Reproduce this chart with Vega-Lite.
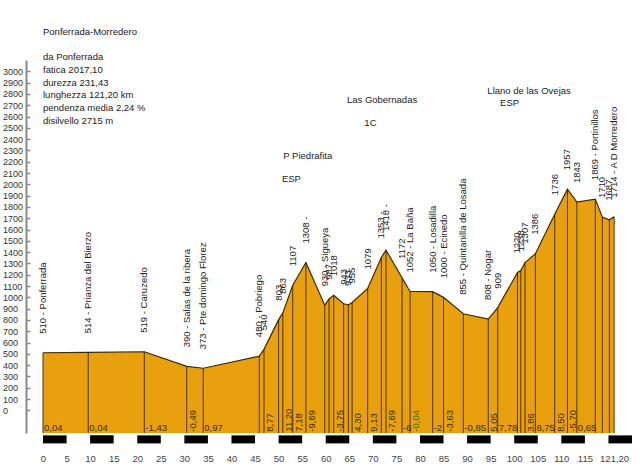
{
  "$schema": "https://vega.github.io/schema/vega-lite/v6.json",
  "autosize": {"type": "none"},
  "padding": {"left": 43, "top": 60, "right": 8, "bottom": 36},
  "width": 589,
  "height": 373,
  "background": "white",
  "config": {
    "view": {"stroke": null},
    "font": "Liberation Sans",
    "text": {"font": "Liberation Sans", "fontSize": 9.5, "color": "#222"},
    "axis": {"labelOverlap": false, "labelFlush": false, "grid": false, "title": null}
  },
  "datasets": {
    "pts": [
      {"km": 0, "ele": 510, "name": "510 - Ponferrada"},
      {"km": 9.6, "ele": 514, "name": "514 - Prianza del Bierzo"},
      {"km": 21.5, "ele": 519, "name": "519 - Caruzedo"},
      {"km": 30.5, "ele": 390, "name": "390 - Salas de la ribera"},
      {"km": 34.0, "ele": 373, "name": "373 - Pte domingo Florez"},
      {"km": 45.9, "ele": 480, "name": "480 - Pobriego"},
      {"km": 46.9, "ele": 540, "name": "540"},
      {"km": 50.0, "ele": 803, "name": "803"},
      {"km": 50.9, "ele": 863, "name": "863"},
      {"km": 53.0, "ele": 1107, "name": "1107"},
      {"km": 55.8, "ele": 1308, "name": "1308 -"},
      {"km": 59.8, "ele": 930, "name": "930 - Sigueya"},
      {"km": 60.7, "ele": 987, "name": "987"},
      {"km": 61.7, "ele": 1018, "name": "1018"},
      {"km": 63.8, "ele": 943, "name": "943"},
      {"km": 64.8, "ele": 933, "name": "933"},
      {"km": 65.6, "ele": 955, "name": "955"},
      {"km": 68.9, "ele": 1079, "name": "1079"},
      {"km": 71.8, "ele": 1353, "name": "1353 -"},
      {"km": 72.8, "ele": 1418, "name": "1418 -"},
      {"km": 76.2, "ele": 1172, "name": "1172"},
      {"km": 77.9, "ele": 1052, "name": "1052 - La Baña"},
      {"km": 82.7, "ele": 1050, "name": "1050 - Losadilla"},
      {"km": 85.0, "ele": 1000, "name": "1000 - Ecinedo"},
      {"km": 89.2, "ele": 855, "name": "855 - Quintanilla de Losada"},
      {"km": 94.5, "ele": 808, "name": "808 - Nogar"},
      {"km": 96.5, "ele": 909, "name": "909"},
      {"km": 100.7, "ele": 1220, "name": "1220"},
      {"km": 101.4, "ele": 1238, "name": "1238"},
      {"km": 102.3, "ele": 1307, "name": "1307"},
      {"km": 104.5, "ele": 1386, "name": "1386"},
      {"km": 108.6, "ele": 1736, "name": "1736"},
      {"km": 111.3, "ele": 1957, "name": "1957"},
      {"km": 113.3, "ele": 1843, "name": "1843"},
      {"km": 117.2, "ele": 1869, "name": "1869 - Portinillos"},
      {"km": 118.7, "ele": 1710, "name": "1710"},
      {"km": 120.2, "ele": 1687, "name": "1687"},
      {"km": 121.2, "ele": 1714, "name": "1714 - A D Morredero"}
    ],
    "gradH": [
      {"km": 0, "g": "0,04"},
      {"km": 9.6, "g": "0,04"},
      {"km": 21.5, "g": "-1,43"},
      {"km": 34.0, "g": "0,97"},
      {"km": 76.2, "g": "-6"},
      {"km": 82.7, "g": "-2"},
      {"km": 89.2, "g": "-0,85"},
      {"km": 96.5, "g": "7,78"},
      {"km": 104.5, "g": "8,75"},
      {"km": 113.3, "g": "0,65"}
    ],
    "gradV": [
      {"km": 30.5, "g": "-0,49"},
      {"km": 46.9, "g": "8,77"},
      {"km": 50.9, "g": "11,20"},
      {"km": 53.0, "g": "7,18"},
      {"km": 55.8, "g": "-9,69"},
      {"km": 61.7, "g": "-3,75"},
      {"km": 65.6, "g": "4,30"},
      {"km": 68.9, "g": "9,13"},
      {"km": 72.8, "g": "-7,69"},
      {"km": 77.9, "g": "-0,04"},
      {"km": 85.0, "g": "-3,63"},
      {"km": 94.5, "g": "5,05"},
      {"km": 102.3, "g": "3,86"},
      {"km": 108.6, "g": "8,50"},
      {"km": 111.3, "g": "-5,70"}
    ],
    "bars": [
      {"s": 0, "e": 5}, {"s": 10, "e": 15}, {"s": 20, "e": 25}, {"s": 30, "e": 35},
      {"s": 40, "e": 45}, {"s": 50, "e": 55}, {"s": 60, "e": 65}, {"s": 70, "e": 75},
      {"s": 80, "e": 85}, {"s": 90, "e": 95}, {"s": 100, "e": 105}, {"s": 110, "e": 115},
      {"s": 120, "e": 125}
    ]
  },
  "layer": [
    {
      "data": {"name": "pts"},
      "mark": {"type": "area", "color": "#e8a10c", "clip": false},
      "encoding": {
        "x": {
          "field": "km", "type": "quantitative",
          "scale": {"domain": [0, 125], "nice": false, "zero": false},
          "axis": {
            "orient": "bottom", "title": null, "grid": false, "domain": false, "ticks": false,
            "tickCount": 200, "format": "d",
            "values": [0,5,10,15,20,25,30,35,40,45,50,55,60,65,70,75,80,85,90,95,100,105,110,115,121.2],
            "labelExpr": "datum.value == 121.2 ? '121,20' : datum.label",
            "labelFont": "Liberation Sans", "labelFontSize": 9.5, "labelColor": "#444",
            "labelPadding": 20, "labelOverlap": false, "labelFlush": false
          }
        },
        "y": {
          "field": "ele", "type": "quantitative",
          "scale": {"domain": [-200, 3100], "nice": false, "zero": false},
          "axis": {
            "title": null, "grid": false, "offset": 17, "format": "d",
            "tickCount": 200,
            "values": [0,100,200,300,400,500,600,700,800,900,1000,1100,1200,1300,1400,1500,1600,1700,1800,1900,2000,2100,2200,2300,2400,2500,2600,2700,2800,2900,3000],
            "labelAlign": "left", "labelBaseline": "middle",
            "labelPadding": 27.5, "tickSize": -4,
            "domainColor": "#8a8a8a", "domainWidth": 2,
            "tickColor": "#8a8a8a", "tickWidth": 1.5,
            "labelFont": "Liberation Sans", "labelFontSize": 9, "labelColor": "#333",
            "labelOverlap": false, "labelFlush": false
          }
        },
        "y2": {"datum": -200}
      }
    },
    {
      "data": {"name": "pts"},
      "mark": {"type": "rule", "color": "#4a3208", "strokeWidth": 1},
      "encoding": {
        "x": {"field": "km", "type": "quantitative"},
        "y": {"field": "ele", "type": "quantitative"},
        "y2": {"datum": -200}
      }
    },
    {
      "data": {"name": "pts"},
      "mark": {"type": "line", "color": "#3d2a08", "strokeWidth": 1.2},
      "encoding": {
        "x": {"field": "km", "type": "quantitative"},
        "y": {"field": "ele", "type": "quantitative"}
      }
    },
    {
      "data": {"name": "pts"},
      "mark": {"type": "text", "angle": 270, "align": "left", "baseline": "middle", "dx": 19, "fontSize": 9.5, "color": "#222"},
      "encoding": {
        "x": {"field": "km", "type": "quantitative"},
        "y": {"field": "ele", "type": "quantitative"},
        "text": {"field": "name"}
      }
    },
    {
      "data": {"name": "gradH"},
      "mark": {"type": "text", "align": "left", "baseline": "middle", "dx": 1, "fontSize": 9.5, "color": "#3a2a10"},
      "encoding": {
        "x": {"field": "km", "type": "quantitative"},
        "y": {"datum": -160},
        "text": {"field": "g"}
      }
    },
    {
      "data": {"name": "gradV"},
      "mark": {"type": "text", "angle": 270, "align": "left", "baseline": "top", "dy": 1, "dx": 1, "fontSize": 9.5},
      "encoding": {
        "x": {"field": "km", "type": "quantitative"},
        "y": {"datum": -197},
        "text": {"field": "g"},
        "color": {"condition": {"test": "datum.g == '-0,04'", "value": "#1f7a1f"}, "value": "#3a2a10"}
      }
    },
    {
      "data": {"name": "bars"},
      "mark": {"type": "rect", "color": "black"},
      "encoding": {
        "x": {"field": "s", "type": "quantitative"},
        "x2": {"field": "e"},
        "y": {"datum": -221},
        "y2": {"datum": -292}
      }
    },
    {
      "data": {"values": [{}]},
      "mark": {"type": "text", "align": "left", "baseline": "middle", "fontSize": 9.5, "color": "#222"},
      "encoding": {"x": {"datum": 0}, "y": {"datum": 3345}, "text": {"value": "Ponferrada-Morredero"}}
    },
    {
      "data": {"values": [{}]},
      "mark": {"type": "text", "align": "left", "baseline": "middle", "fontSize": 9.5, "lineHeight": 12.7, "color": "#222"},
      "encoding": {"x": {"datum": 0}, "y": {"datum": 3124},
        "text": {"value": ["da Ponferrada", "fatica 2017,10", "durezza 231,43", "lunghezza 121,20 km", "pendenza media 2,24 %", "disilvello 2715 m"]}}
    },
    {
      "data": {"values": [{}]},
      "mark": {"type": "text", "align": "left", "baseline": "middle", "fontSize": 9.5, "color": "#222"},
      "encoding": {"x": {"datum": 51.0}, "y": {"datum": 2248}, "text": {"value": "P Piedrafita"}}
    },
    {
      "data": {"values": [{}]},
      "mark": {"type": "text", "align": "left", "baseline": "middle", "fontSize": 9.5, "color": "#222"},
      "encoding": {"x": {"datum": 50.7}, "y": {"datum": 2044}, "text": {"value": "ESP"}}
    },
    {
      "data": {"values": [{}]},
      "mark": {"type": "text", "align": "left", "baseline": "middle", "fontSize": 9.5, "color": "#222"},
      "encoding": {"x": {"datum": 64.5}, "y": {"datum": 2743}, "text": {"value": "Las Gobernadas"}}
    },
    {
      "data": {"values": [{}]},
      "mark": {"type": "text", "align": "left", "baseline": "middle", "fontSize": 9.5, "color": "#222"},
      "encoding": {"x": {"datum": 68.2}, "y": {"datum": 2540}, "text": {"value": "1C"}}
    },
    {
      "data": {"values": [{}]},
      "mark": {"type": "text", "align": "left", "baseline": "middle", "fontSize": 9.5, "color": "#222"},
      "encoding": {"x": {"datum": 94.3}, "y": {"datum": 2823}, "text": {"value": "Llano de las Ovejas"}}
    },
    {
      "data": {"values": [{}]},
      "mark": {"type": "text", "align": "left", "baseline": "middle", "fontSize": 9.5, "color": "#222"},
      "encoding": {"x": {"datum": 97.0}, "y": {"datum": 2717}, "text": {"value": "ESP"}}
    }
  ]
}
